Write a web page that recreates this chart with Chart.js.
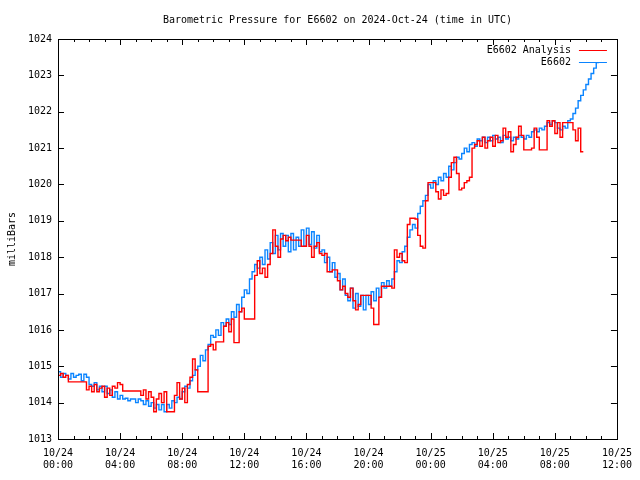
<!DOCTYPE html>
<html>
<head>
<meta charset="utf-8">
<script src="https://cdn.jsdelivr.net/npm/chart.js@4.4.1/dist/chart.umd.min.js"></script>
<style>
  html, body { margin: 0; padding: 0; background: #fff; }
  canvas { display: block; }
</style>
</head>
<body>
<canvas id="pressure" width="640" height="480"></canvas>
<script>
// readings every 10 minutes starting 10/24 00:00 UTC
var sampleHours = 1 / 6;

var stationName = "E6602";
var analysisName = "E6602 Analysis";

var analysisValues = [
  1014.8, 1014.75, 1014.8, 1014.7, 1014.75, 1014.57, 1014.57, 1014.57, 1014.57, 1014.57,
  1014.57, 1014.57, 1014.35, 1014.45, 1014.3, 1014.5, 1014.3, 1014.4, 1014.45, 1014.15,
  1014.4, 1014.2, 1014.45, 1014.4, 1014.55, 1014.5, 1014.32, 1014.32, 1014.32, 1014.32,
  1014.32, 1014.32, 1014.32, 1014.2, 1014.35, 1014.1, 1014.3, 1014.15, 1013.75, 1014.1,
  1014.25, 1014.0, 1014.3, 1013.75, 1013.75, 1013.75, 1014.2, 1014.55, 1014.1, 1014.4,
  1014.0, 1014.5, 1014.7, 1015.2, 1014.9, 1014.3, 1014.3, 1014.3, 1014.3, 1015.55,
  1015.6, 1015.45, 1015.67, 1015.67, 1015.67, 1016.1, 1016.2, 1015.95, 1016.3, 1015.65,
  1015.65, 1016.5, 1016.6, 1016.3, 1016.3, 1016.3, 1016.3, 1017.5, 1017.9, 1017.55,
  1017.7, 1017.45, 1017.8, 1018.1, 1018.75, 1018.3, 1018.0, 1018.5, 1018.6, 1018.45,
  1018.55, 1018.47, 1018.47, 1018.47, 1018.47, 1018.3, 1018.3, 1018.6, 1018.3, 1018.0,
  1018.3, 1018.4, 1018.1, 1018.05, 1018.1, 1017.6, 1017.6, 1017.65, 1017.65, 1017.35,
  1017.1, 1017.2, 1017.0, 1016.9, 1017.15, 1016.8, 1016.55, 1016.7, 1016.95, 1016.95,
  1016.95, 1016.95, 1016.6, 1016.15, 1016.15, 1016.9, 1017.2, 1017.2, 1017.2, 1017.2,
  1017.15, 1018.2, 1018.0, 1018.1, 1017.9, 1017.85, 1018.9, 1019.07, 1019.07, 1019.05,
  1018.6, 1018.3, 1018.25, 1019.55, 1020.05, 1020.05, 1020.05, 1019.8, 1019.6, 1019.85,
  1019.7, 1019.75, 1020.2, 1020.6, 1020.75, 1020.3, 1019.85, 1019.9, 1020.05, 1020.1,
  1020.2, 1021.0, 1021.1, 1021.2, 1021.05, 1021.3, 1021.0, 1021.2, 1021.3, 1021.05,
  1021.35, 1021.15, 1021.2, 1021.55, 1021.3, 1021.45, 1020.9, 1021.1, 1021.3, 1021.6,
  1021.35, 1020.95, 1020.95, 1020.95, 1021.0, 1021.55, 1021.3, 1020.95, 1020.95, 1020.95,
  1021.75, 1021.6, 1021.75, 1021.4, 1021.7, 1021.3, 1021.7, 1021.7, 1021.7, 1021.7,
  1021.5, 1021.2, 1021.55, 1020.9
];

var stationValues = [
  1014.8, 1014.85, 1014.7, 1014.8, 1014.75, 1014.65, 1014.8, 1014.7, 1014.75, 1014.78,
  1014.6, 1014.78, 1014.7, 1014.5, 1014.45, 1014.55, 1014.35, 1014.45, 1014.3, 1014.45,
  1014.25, 1014.35, 1014.15, 1014.3, 1014.1, 1014.2, 1014.1, 1014.12, 1014.05, 1014.1,
  1014.1, 1014.0, 1014.1, 1014.05, 1013.95, 1014.05, 1013.9, 1014.0, 1013.85, 1013.95,
  1013.8, 1013.95, 1013.75, 1013.95, 1013.85, 1014.05, 1014.0, 1014.15, 1014.1, 1014.3,
  1014.45, 1014.4, 1014.6, 1014.75, 1014.9, 1015.0, 1015.3, 1015.15, 1015.45, 1015.6,
  1015.85, 1015.8, 1016.0, 1015.85, 1016.2, 1016.1, 1016.3, 1016.15, 1016.5, 1016.35,
  1016.7, 1016.5, 1016.9, 1017.1, 1017.0, 1017.4, 1017.6, 1017.8, 1017.7, 1018.0,
  1017.8, 1018.2, 1017.95, 1018.4, 1018.1, 1018.6, 1018.2, 1018.65, 1018.3, 1018.6,
  1018.15, 1018.65, 1018.2, 1018.55, 1018.3, 1018.75, 1018.3, 1018.8, 1018.35, 1018.7,
  1018.25, 1018.6, 1018.15, 1018.2, 1017.85, 1018.0, 1017.6, 1017.85, 1017.45, 1017.55,
  1017.1, 1017.4, 1016.95, 1016.8, 1017.15, 1016.6, 1017.0, 1016.65, 1016.95, 1016.55,
  1016.95, 1016.7, 1017.05, 1016.8, 1017.15, 1016.9, 1017.3, 1017.15, 1017.35, 1017.2,
  1017.4, 1017.6, 1017.9, 1017.85, 1018.15, 1018.3, 1018.55, 1018.75, 1018.9, 1018.8,
  1019.2, 1019.4, 1019.55, 1019.7, 1020.0, 1019.9, 1020.1, 1020.0, 1020.2, 1020.1,
  1020.3, 1020.2, 1020.5, 1020.4, 1020.6, 1020.75, 1020.7, 1020.85, 1021.0, 1020.9,
  1021.1, 1021.15, 1021.05, 1021.25, 1021.2, 1021.3, 1021.15, 1021.3, 1021.2, 1021.35,
  1021.25, 1021.3, 1021.15, 1021.35, 1021.25, 1021.3, 1021.2, 1021.3, 1021.25, 1021.35,
  1021.3, 1021.25, 1021.35, 1021.3, 1021.45, 1021.5, 1021.45, 1021.55, 1021.5, 1021.6,
  1021.7, 1021.65, 1021.75, 1021.7, 1021.55, 1021.5, 1021.6, 1021.55, 1021.75, 1021.8,
  1021.95, 1022.1, 1022.3, 1022.45, 1022.6, 1022.75, 1022.9, 1023.05, 1023.2, 1023.35
];

// axis range and tick labels
var hourMin = 0, hourMax = 36, hourStep = 4;
var pressureMin = 1013, pressureMax = 1024;
var tickDays = ["10/24", "10/25"];
var titleText = "Barometric Pressure for E6602 on 2024-Oct-24 (time in UTC)";
var yTitle = "milliBars";
var fontFamily = "'DejaVu Sans Mono', monospace";

function toPoints(values) {
  return values.map(function (v, i) { return { x: i * sampleHours, y: v }; });
}

function pad2(n) { return (n < 10 ? "0" : "") + n; }

// gnuplot-like frame: title over the plot, border, inward ticks, legend top right
var framePlugin = {
  id: "frame",
  afterDatasetsDraw: function (chart) {
    var ctx = chart.ctx;
    var a = chart.chartArea;
    var xs = chart.scales.x, ys = chart.scales.y;
    ctx.save();
    ctx.strokeStyle = "#000";
    ctx.lineWidth = 1;
    ctx.beginPath();
    for (var h = hourMin; h <= hourMax; h++) {
      var px = Math.round(xs.getPixelForValue(h)) + 0.5;
      var len = (h % hourStep === 0) ? 6 : 3;
      ctx.moveTo(px, a.bottom); ctx.lineTo(px, a.bottom - len);
      ctx.moveTo(px, a.top); ctx.lineTo(px, a.top + len);
    }
    for (var p = pressureMin; p <= pressureMax; p++) {
      var py = Math.round(ys.getPixelForValue(p)) + 0.5;
      ctx.moveTo(a.left, py); ctx.lineTo(a.left + 6, py);
      ctx.moveTo(a.right, py); ctx.lineTo(a.right - 6, py);
    }
    ctx.stroke();
    ctx.strokeRect(Math.round(a.left) + 0.5, Math.round(a.top) + 0.5,
                   Math.round(a.right - a.left), Math.round(a.bottom - a.top));

    ctx.font = "10px " + fontFamily;
    ctx.fillStyle = "#000";
    ctx.textAlign = "center";
    ctx.textBaseline = "middle";
    ctx.fillText(titleText, (a.left + a.right) / 2, 20);

    ctx.textAlign = "right";
    chart.data.datasets.forEach(function (ds, k) {
      var ly = a.top + 11 + k * 12;
      ctx.fillStyle = "#000";
      ctx.fillText(ds.label, a.right - 46, ly);
      ctx.strokeStyle = ds.borderColor;
      ctx.beginPath();
      ctx.moveTo(a.right - 38, Math.round(ly) + 0.5);
      ctx.lineTo(a.right - 10, Math.round(ly) + 0.5);
      ctx.stroke();
    });
    ctx.restore();
  }
};

Chart.defaults.font.family = fontFamily;
Chart.defaults.font.size = 10;
Chart.defaults.color = "#000";

new Chart(document.getElementById("pressure"), {
  type: "line",
  data: {
    datasets: [{
      label: analysisName,
      data: toPoints(analysisValues),
      borderColor: "#ff0000",
      borderWidth: 1.4,
      pointRadius: 0,
      stepped: "after",
      fill: false
    }, {
      label: stationName,
      data: toPoints(stationValues),
      borderColor: "#0a84ff",
      borderWidth: 1.4,
      pointRadius: 0,
      stepped: "after",
      fill: false
    }]
  },
  options: {
    responsive: false,
    animation: false,
    layout: { padding: { left: 0, right: 20, top: 39, bottom: 0 } },
    plugins: {
      legend: { display: false },
      tooltip: { enabled: false },
      title: { display: false }
    },
    scales: {
      x: {
        type: "linear",
        min: hourMin,
        max: hourMax,
        grid: { display: false, drawTicks: false },
        border: { display: false },
        afterFit: function (s) { s.height = 41; },
        ticks: {
          stepSize: hourStep,
          padding: 8,
          maxRotation: 0,
          autoSkip: false,
          callback: function (v) {
            var day = tickDays[Math.floor(v / 24)] || "10/26";
            return [day, pad2(v % 24) + ":00"];
          }
        }
      },
      y: {
        min: pressureMin,
        max: pressureMax,
        grid: { display: false, drawTicks: false },
        border: { display: false },
        afterFit: function (s) { s.width = 58; },
        title: { display: true, text: yTitle, padding: { top: 6, bottom: 0 } },
        ticks: {
          stepSize: 1,
          padding: 6,
          callback: function (v) { return String(v); }
        }
      }
    }
  },
  plugins: [framePlugin]
});
</script>
</body>
</html>
